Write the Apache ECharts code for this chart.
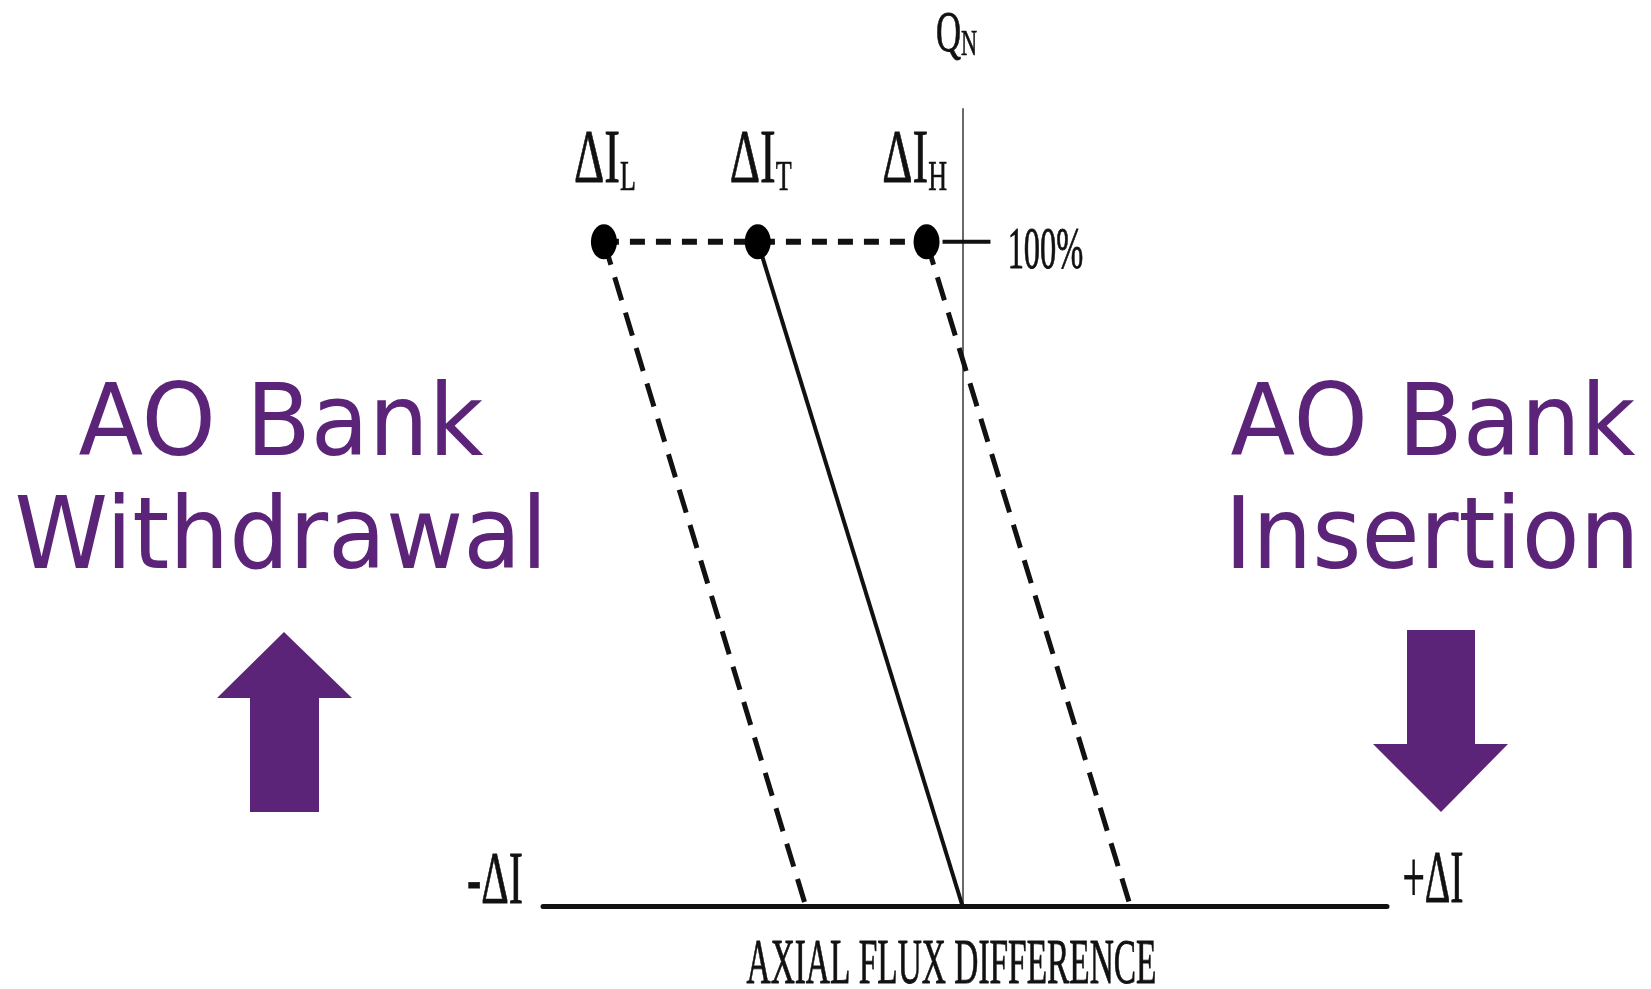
<!DOCTYPE html>
<html>
<head>
<meta charset="utf-8">
<title>Axial flux difference band</title>
<script src="https://cdn.jsdelivr.net/npm/echarts@6/dist/echarts.min.js"></script>
<style>
html, body { margin: 0; padding: 0; background: #fff; }
#main { width: 1651px; height: 989px; }
</style>
</head>
<body>
<div id="main"></div>
<script>
// band limits: AFD at 100% power and where each line reaches 0% power
var bandNames = ['L', 'T', 'H'];
var afdAtFullPower = [-35.9, -20.5, -3.6];
var afdAtZeroPower = [-15.7, 0, 16.8];
var powerLevels = [100, 0];
var powerMax = 120;
var afdMin = -42;
var afdMax = 42.5;
var fullPowerTick = [-2.0, 2.8];

var black = '#111';
var purple = '#5c2479';
var serif = 'Liberation Serif';

function bandLine(i, dashed) {
    return {
        type: 'line',
        name: 'ΔI' + bandNames[i],
        data: [[afdAtFullPower[i], powerLevels[0]], [afdAtZeroPower[i], powerLevels[1]]],
        symbol: 'none',
        silent: true,
        lineStyle: {color: black, width: dashed ? 5 : 4, type: dashed ? [24, 13] : 'solid'}
    };
}

var option = {
    backgroundColor: '#fff',
    animation: false,
    grid: {left: 543, right: 264, top: 109, bottom: 83},
    xAxis: {
        type: 'value',
        min: afdMin,
        max: afdMax,
        axisLine: {lineStyle: {color: black, width: 5}},
        axisTick: {show: false},
        axisLabel: {show: false},
        splitLine: {show: false}
    },
    yAxis: {
        type: 'value',
        min: 0,
        max: powerMax,
        axisLine: {show: true, onZero: true, lineStyle: {color: '#6a6a6a', width: 2}},
        axisTick: {show: false},
        axisLabel: {show: false},
        splitLine: {show: false}
    },
    series: [
        bandLine(0, true),
        bandLine(1, false),
        bandLine(2, true),
        {
            type: 'line',
            name: '100% link',
            data: afdAtFullPower.map(function (x) { return [x, powerLevels[0]]; }),
            symbol: 'none',
            silent: true,
            lineStyle: {color: black, width: 6, type: [15, 11]}
        },
        {
            type: 'line',
            name: '100% tick',
            data: fullPowerTick.map(function (x) { return [x, powerLevels[0]]; }),
            symbol: 'none',
            silent: true,
            lineStyle: {color: black, width: 4}
        },
        {
            type: 'scatter',
            name: 'points',
            data: afdAtFullPower.map(function (x) { return [x, powerLevels[0]]; }),
            symbol: 'circle',
            symbolSize: [26, 35],
            itemStyle: {color: '#000', opacity: 1},
            z: 5
        }
    ]
};

var chart = echarts.init(document.getElementById('main'));
chart.setOption(option);

function px(x, y) {
    return chart.convertToPixel({gridIndex: 0}, [x, y]);
}

// scanned-looking serif labels: narrowed and a touch heavier
function serifLabel(p, dx, dy, text, size, scaleX, rich) {
    return {
        type: 'text',
        x: p[0] + dx,
        y: p[1] + dy,
        scaleX: scaleX,
        silent: true,
        style: {
            text: text,
            fontFamily: serif,
            fontSize: size,
            fill: black,
            stroke: black,
            lineWidth: 0.8,
            align: 'center',
            verticalAlign: 'middle',
            rich: rich
        }
    };
}

function subRich(mainSize, subSize) {
    return {
        m: {fontFamily: serif, fontSize: mainSize, fill: black, stroke: black, lineWidth: 0.8},
        s: {fontFamily: serif, fontSize: subSize, fill: black, stroke: black, lineWidth: 0.6, verticalAlign: 'bottom'}
    };
}

function purpleText(x, y, text) {
    return {
        type: 'text', x: x, y: y, scaleX: 0.955, silent: true,
        style: {text: text, fontFamily: 'DejaVu Sans', fontSize: 99, fill: purple, align: 'center', verticalAlign: 'middle'}
    };
}

var labelShift = [1, 3, -12];
var graphics = [];
for (var i = 0; i < bandNames.length; i++) {
    graphics.push(serifLabel(px(afdAtFullPower[i], powerLevels[0]), labelShift[i], -80,
        '{m|ΔI}{s|' + bandNames[i] + '}', 76, 0.62, subRich(76, 42)));
}
graphics.push(serifLabel(px(0, powerMax), -6, -73, '{m|Q}{s|N}', 56, 0.62, subRich(56, 36)));
graphics.push(serifLabel(px(0, powerLevels[0]), 83, 11, '100%', 59, 0.55));
graphics.push(serifLabel(px(afdMin, 0), -48, -23, '-ΔI', 75, 0.57));
graphics.push(serifLabel(px(afdMax, 0), 46, -24, '+ΔI', 75, 0.53));
graphics.push(serifLabel(px(0, 0), -11, 60, 'AXIAL FLUX DIFFERENCE', 63, 0.53));

// side notes and arrows
graphics.push(purpleText(281, 429, 'AO Bank'));
graphics.push(purpleText(281, 542, 'Withdrawal'));
graphics.push(purpleText(1433, 429, 'AO Bank'));
graphics.push(purpleText(1432, 542, 'Insertion'));
graphics.push({
    type: 'polygon', silent: true,
    shape: {points: [[284, 632], [352, 698], [319, 698], [319, 812], [250, 812], [250, 698], [217, 698]]},
    style: {fill: purple}
});
graphics.push({
    type: 'polygon', silent: true,
    shape: {points: [[1407, 630], [1475, 630], [1475, 744], [1508, 744], [1441, 812], [1373, 744], [1407, 744]]},
    style: {fill: purple}
});

chart.setOption({graphic: graphics});

window.addEventListener('resize', function () {
    chart.resize();
});
</script>
</body>
</html>
